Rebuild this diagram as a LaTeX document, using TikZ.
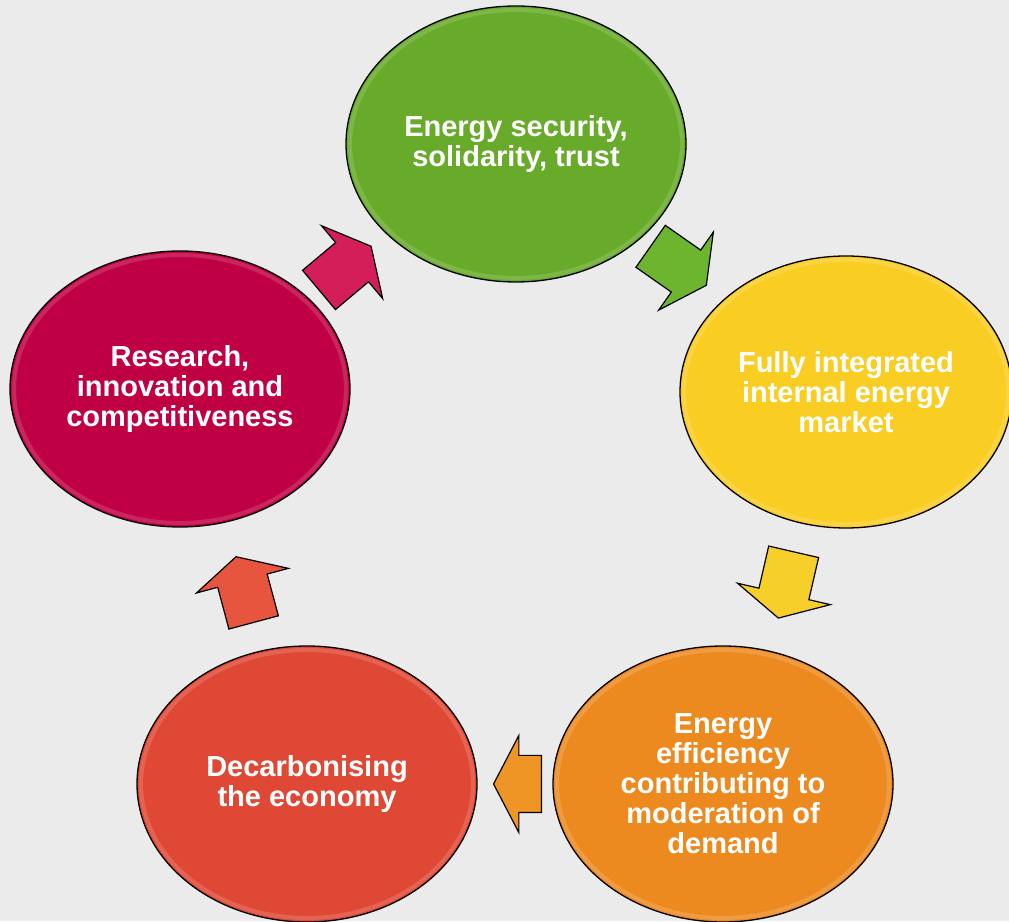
\documentclass[tikz,border=0pt]{standalone}
\usepackage{fontspec}
\setmainfont{Liberation Sans}
\usetikzlibrary{positioning,calc,shapes,shapes.arrows}
\definecolor{paper}{HTML}{EBEBEB}
\definecolor{secgreen}{HTML}{68AA2A}
\definecolor{mktyellow}{HTML}{FACD22}
\definecolor{efforange}{HTML}{EC8A20}
\definecolor{carbred}{HTML}{E04836}
\definecolor{rescrimson}{HTML}{C00044}
\definecolor{secarrow}{HTML}{6DB52E}
\definecolor{mktarrow}{HTML}{F6CF2B}
\definecolor{effarrow}{HTML}{EF9526}
\definecolor{carbarrow}{HTML}{E8553F}
\definecolor{resarrow}{HTML}{D41E5A}
\tikzset{
        x=1pt, y=1pt, % one unit is one pixel of the layout
        every node/.style={font=\fontsize{29}{30}\selectfont\bfseries, text=white},
        gloss/.style={path picture={\draw[white, opacity=.15, line width=4pt]
            (path picture bounding box.center) ellipse (#1);}}, % light rim inside the goal
    }
\tikzstyle{goal}=[draw=black,line width=1.3pt,ellipse,minimum width=340pt,minimum height=276pt,inner sep=0pt,align=center,gloss={166pt and 134pt}]
\tikzstyle{turn}=[draw=black,line width=1.2pt,single arrow,single arrow head extend=22pt,single arrow tip angle=125,inner xsep=0pt,inner ysep=25pt,minimum height=68pt]

\begin{document}
\begin{tikzpicture}
    \fill[paper] (0,0) rectangle (1009,921);
    \useasboundingbox (0,0) rectangle (1009,921);

    \node[goal, fill=secgreen] (security) at (516,777)
        {Energy security,\\solidarity, trust};
    \node[goal, fill=mktyellow, minimum width=332pt, minimum height=272pt, gloss={162pt and 132pt}] (market) at (846,529)
        {Fully integrated\\internal energy\\market};
    \node[goal, fill=efforange] (efficiency) at (723,137)
        {Energy\\efficiency\\contributing to\\moderation of\\demand};
    \node[goal, fill=carbred] (decarbon) at (307,137)
        {Decarbonising\\the economy};
    \node[goal, fill=rescrimson] (research) at (180,532)
        {Research,\\innovation and\\competitiveness};

    % block arrows half way between the goals, pulled back a little
    \node[turn, fill=resarrow, rotate=40] (r2s) at ($(research)!0.5!(security)!-10pt!(security)$) {};
    \node[turn, fill=secarrow, rotate=-35] (s2m) at ($(security)!0.5!(market)!-10pt!(market)$) {};
    \node[turn, fill=mktarrow, rotate=-103] (m2e) at ($(market)!0.5!(efficiency)!-10pt!(efficiency)$) {};
    \node[turn, fill=effarrow, rotate=180, minimum height=48pt, inner ysep=28pt, single arrow head extend=20pt] (e2d) at ($(efficiency)!0.5!(decarbon)!-10pt!(decarbon)$) {};
    \node[turn, fill=carbarrow, rotate=105] (d2r) at ($(decarbon)!0.5!(research)!-10pt!(research)$) {};
\end{tikzpicture}
\end{document}
